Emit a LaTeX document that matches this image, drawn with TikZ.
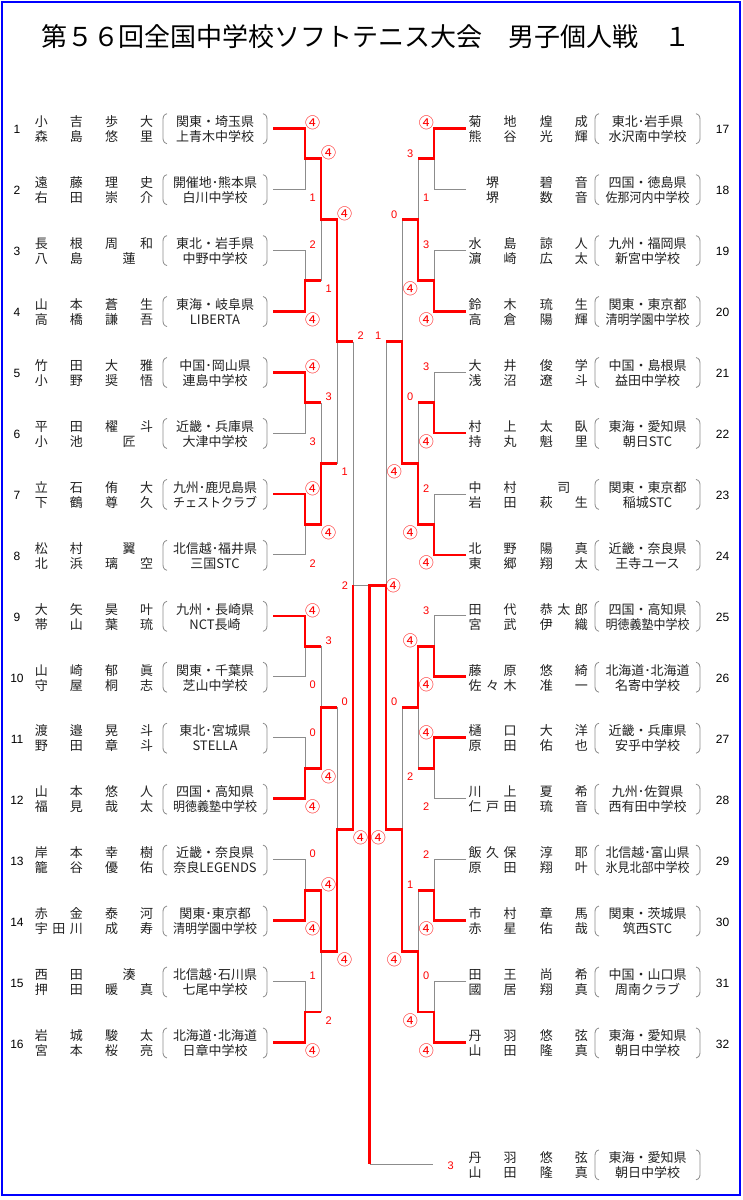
\documentclass[tikz,border=0pt]{standalone}
\usepackage{fontspec}
\usepackage{graphicx}
\newfontfamily\jp{Noto Sans CJK JP}
\newfontfamily\lat{Liberation Sans}
\usetikzlibrary{calc}
\definecolor{lg}{HTML}{8C8C8C}
\definecolor{rd}{HTML}{FF0000}
\definecolor{bl}{HTML}{0000FF}
\definecolor{tx}{HTML}{222222}
\newsavebox\tbx
\newcommand\fitw[1]{\sbox\tbx{#1}\ifdim\wd\tbx>84pt\resizebox{84pt}{\height}{\usebox\tbx}\else\usebox\tbx\fi}
\def\sprEnd{}
\def\spr#1{\sprA#1\sprEnd}
\def\sprA#1#2{#1\ifx#2\sprEnd\else\hfill\expandafter\sprA\expandafter#2\fi}
\newcommand\four{{\jp\fontsize{15}{15}\selectfont ④}}
\tikzset{
 win/.style={draw=rd, line width=2.8pt},
 lose/.style={draw=lg, line width=1pt},
 brk/.style={draw=lg, line width=0.8pt},
 nm/.style={inner sep=0pt, text=tx, font=\jp\fontsize{13}{13}\selectfont, text height=11pt, text depth=2.5pt},
 num/.style={inner sep=0pt, font=\lat\fontsize{12}{12}\selectfont},
 scr/.style={inner sep=0pt, text=rd, font=\lat\fontsize{11}{11}\selectfont},
}
\newcommand\entLx[8]{%
 \pgfmathsetmacro\cy{129.7+60.95*(#2)}%
 \node[nm] (s#1a) at (58.9,\cy-7.5) {\makebox[48pt]{\spr{#3}}};%
 \node[nm] (g#1a) at (129.2,\cy-7.5) {\makebox[48pt]{\spr{#4}}};%
 \node[nm] (s#1b) at (58.9,\cy+7.5) {\makebox[48pt]{\spr{#5}}};%
 \node[nm] (g#1b) at (129.2,\cy+7.5) {\makebox[48pt]{\spr{#6}}};%
 \node[nm] (r#1) at (215,\cy-7.5) {\fitw{#7}};%
 \node[nm] (k#1) at (215,\cy+7.5) {\fitw{#8}};%
 \draw[brk] (167,\cy-16) .. controls (163.6,\cy-15) and (163,\cy-13) .. (163,\cy-9.5) -- (163,\cy+7.5) .. controls (163,\cy+11) and (163.6,\cy+13) .. (167,\cy+14);%
 \draw[brk] (263,\cy-16) .. controls (266.4,\cy-15) and (267,\cy-13) .. (267,\cy-9.5) -- (267,\cy+7.5) .. controls (267,\cy+11) and (266.4,\cy+13) .. (263,\cy+14);%
}
\newcommand\entRx[8]{%
 \pgfmathsetmacro\cy{129.7+60.95*(#2)}%
 \node[nm] (s#1a) at (492.5,\cy-7.5) {\makebox[48pt]{\spr{#3}}};%
 \node[nm] (g#1a) at (563.9,\cy-7.5) {\makebox[48pt]{\spr{#4}}};%
 \node[nm] (s#1b) at (492.5,\cy+7.5) {\makebox[48pt]{\spr{#5}}};%
 \node[nm] (g#1b) at (563.9,\cy+7.5) {\makebox[48pt]{\spr{#6}}};%
 \node[nm] (r#1) at (647.5,\cy-7.5) {\fitw{#7}};%
 \node[nm] (k#1) at (647.5,\cy+7.5) {\fitw{#8}};%
 \draw[brk] (599,\cy-16) .. controls (595.6,\cy-15) and (595,\cy-13) .. (595,\cy-9.5) -- (595,\cy+7.5) .. controls (595,\cy+11) and (595.6,\cy+13) .. (599,\cy+14);%
 \draw[brk] (696,\cy-16) .. controls (699.4,\cy-15) and (700,\cy-13) .. (700,\cy-9.5) -- (700,\cy+7.5) .. controls (700,\cy+11) and (699.4,\cy+13) .. (696,\cy+14);%
}
\newcommand\ms[6]{%
 \node[scr] (#1u) at (#2,{128.3+60.95*(#3)-5.5}) {#5};%
 \node[scr] (#1d) at (#2,{128.3+60.95*(#4)+8.3}) {#6};%
}
\begin{document}
\begin{tikzpicture}[x=1pt,y=-1pt]
\useasboundingbox (0,0) rectangle (743,1200);
\fill[white] (0,0) rectangle (743,1200);
\draw[bl, line width=2pt] (1.5,2) rectangle (740,1194.5);
\node[font=\jp\fontsize{26}{26}\selectfont, inner sep=0pt] (title) at (366,37) {第５６回全国中学校ソフトテニス大会　男子個人戦　１};

% coordinates
\foreach \i in {1,...,16}{\pgfmathsetmacro\yy{128.3+60.95*(\i-1)}\coordinate (eL\i) at (273,\yy); \coordinate (eR\i) at (466,\yy);}
\foreach \k in {1,...,8}{\pgfmathsetmacro\yy{128.3+60.95*(2*\k-1.5)}\coordinate (aL\k) at (305,\yy); \coordinate (aR\k) at (434,\yy);}
\foreach \k in {1,...,4}{\pgfmathsetmacro\yy{128.3+60.95*(4*\k-2.5)}\coordinate (bL\k) at (321,\yy); \coordinate (bR\k) at (418,\yy);}
\foreach \k in {1,2}{\pgfmathsetmacro\yy{128.3+60.95*(8*\k-4.5)}\coordinate (cL\k) at (337,\yy); \coordinate (cR\k) at (402,\yy);}
\pgfmathsetmacro\yy{128.3+60.95*7.5}
\coordinate (dL) at (353,\yy); \coordinate (dR) at (386,\yy); \coordinate (f) at (369.5,\yy);
\pgfmathsetmacro\yy{128.3+60.95*17}
\coordinate (w) at (369.5,\yy); \coordinate (wE) at (433,\yy);

% losers (gray)
\draw[lose] (eL2) -| (aL1);
\draw[lose] (eL3) -| (aL2);
\draw[lose] (eL6) -| (aL3);
\draw[lose] (eL8) -| (aL4);
\draw[lose] (eL10) -| (aL5);
\draw[lose] (eL11) -| (aL6);
\draw[lose] (eL13) -| (aL7);
\draw[lose] (eL15) -| (aL8);
\draw[lose] (aL2 -| bL1) -- (bL1);
\draw[lose] (aL3 -| bL2) -- (bL2);
\draw[lose] (aL5 -| bL3) -- (bL3);
\draw[lose] (aL8 -| bL4) -- (bL4);
\draw[lose] (bL2 -| cL1) -- (cL1);
\draw[lose] (bL3 -| cL2) -- (cL2);
\draw[lose] (cL1 -| dL) -- (dL);
\draw[lose] (dL) -- (f);
\draw[lose] (eR2) -| (aR1);
\draw[lose] (eR3) -| (aR2);
\draw[lose] (eR5) -| (aR3);
\draw[lose] (eR7) -| (aR4);
\draw[lose] (eR9) -| (aR5);
\draw[lose] (eR12) -| (aR6);
\draw[lose] (eR13) -| (aR7);
\draw[lose] (eR15) -| (aR8);
\draw[lose] (aR1 -| bR1) -- (bR1);
\draw[lose] (aR3 -| bR2) -- (bR2);
\draw[lose] (aR6 -| bR3) -- (bR3);
\draw[lose] (aR7 -| bR4) -- (bR4);
\draw[lose] (bR1 -| cR1) -- (cR1);
\draw[lose] (bR3 -| cR2) -- (cR2);
\draw[lose] (cR1 -| dR) -- (dR);
\draw[lose] (w) -- (wE);

% winners (red)
\draw[win] (eL1) -| (aL1) -| (bL1) -| (cL1) -- (cL1 -| dL);
\draw[win] (eL4) -| (aL2) -- (aL2 -| bL1);
\draw[win] (eL5) -| (aL3) -- (aL3 -| bL2);
\draw[win] (eL7) -| (aL4) -| (bL2) -- (bL2 -| cL1);
\draw[win] (eL9) -| (aL5) -- (aL5 -| bL3);
\draw[win] (eL12) -| (aL6) -| (bL3) -- (bL3 -| cL2);
\draw[win] (eL14) -| (aL7) -| (bL4) -| (cL2) -| (dL);
\draw[win] (eL16) -| (aL8) -- (aL8 -| bL4);
\draw[win] (eR1) -| (aR1) -- (aR1 -| bR1);
\draw[win] (eR4) -| (aR2) -| (bR1) -- (bR1 -| cR1);
\draw[win] (eR6) -| (aR3) -- (aR3 -| bR2);
\draw[win] (eR8) -| (aR4) -| (bR2) -| (cR1) -- (cR1 -| dR);
\draw[win] (eR10) -| (aR5) -| (bR3) -- (bR3 -| cR2);
\draw[win] (eR11) -| (aR6) -- (aR6 -| bR3);
\draw[win] (eR14) -| (aR7) -- (aR7 -| bR4);
\draw[win] (eR16) -| (aR8) -| (bR4) -| (cR2) -| (dR) -- (f) -- (w);

% scores left
\ms{sa1}{312.7}{0}{1}{\four}{1}
\ms{sa2}{312.7}{2}{3}{2}{\four}
\ms{sa3}{312.7}{4}{5}{\four}{3}
\ms{sa4}{312.7}{6}{7}{\four}{2}
\ms{sa5}{312.7}{8}{9}{\four}{0}
\ms{sa6}{312.7}{10}{11}{0}{\four}
\ms{sa7}{312.7}{12}{13}{0}{\four}
\ms{sa8}{312.7}{14}{15}{1}{\four}
\ms{sb1}{328.7}{0.5}{2.5}{\four}{1}
\ms{sb2}{328.7}{4.5}{6.5}{3}{\four}
\ms{sb3}{328.7}{8.5}{10.5}{3}{\four}
\ms{sb4}{328.7}{12.5}{14.5}{\four}{2}
\ms{sc1}{344.7}{1.5}{5.5}{\four}{1}
\ms{sc2}{344.7}{9.5}{13.5}{0}{\four}
\ms{sd}{360.7}{3.5}{11.5}{2}{\four}
% scores right
\ms{ta1}{426.3}{0}{1}{\four}{1}
\ms{ta2}{426.3}{2}{3}{3}{\four}
\ms{ta3}{426.3}{4}{5}{3}{\four}
\ms{ta4}{426.3}{6}{7}{2}{\four}
\ms{ta5}{426.3}{8}{9}{3}{\four}
\ms{ta6}{426.3}{10}{11}{\four}{2}
\ms{ta7}{426.3}{12}{13}{2}{\four}
\ms{ta8}{426.3}{14}{15}{0}{\four}
\ms{tb1}{410.3}{0.5}{2.5}{3}{\four}
\ms{tb2}{410.3}{4.5}{6.5}{0}{\four}
\ms{tb3}{410.3}{8.5}{10.5}{\four}{2}
\ms{tb4}{410.3}{12.5}{14.5}{1}{\four}
\ms{tc1}{394.3}{1.5}{5.5}{0}{\four}
\ms{tc2}{394.3}{9.5}{13.5}{0}{\four}
\ms{td}{378.3}{3.5}{11.5}{1}{\four}
\node[scr] (fl) at (345,586) {2};
\node[scr] (fr) at (393.3,586) {\four};
\node[scr] (ws) at (450.7,1166) {3};

% numbers
\foreach \i in {1,...,16}{\node[num] (nL\i) at (17,{129.7+60.95*(\i-1)}) {\i};}
\foreach \i in {17,...,32}{\node[num] (nR\i) at (722.5,{129.7+60.95*(\i-17)}) {\i};}

% entries left
\entLx{L1}{0}{小吉}{歩大}{森島}{悠里}{関東・埼玉県}{上青木中学校}
\entLx{L2}{1}{遠藤}{理史}{右田}{崇介}{開催地･熊本県}{白川中学校}
\entLx{L3}{2}{長根}{周和}{八島}{蓮}{東北・岩手県}{中野中学校}
\entLx{L4}{3}{山本}{蒼生}{高橋}{謙吾}{東海・岐阜県}{LIBERTA}
\entLx{L5}{4}{竹田}{大雅}{小野}{奨悟}{中国･岡山県}{連島中学校}
\entLx{L6}{5}{平田}{櫂斗}{小池}{匠}{近畿・兵庫県}{大津中学校}
\entLx{L7}{6}{立石}{侑大}{下鶴}{尊久}{九州･鹿児島県}{チェストクラブ}
\entLx{L8}{7}{松村}{翼}{北浜}{璃空}{北信越･福井県}{三国STC}
\entLx{L9}{8}{大矢}{昊叶}{帯山}{葉琉}{九州・長崎県}{NCT長崎}
\entLx{L10}{9}{山崎}{郁眞}{守屋}{桐志}{関東・千葉県}{芝山中学校}
\entLx{L11}{10}{渡邉}{晃斗}{野田}{章斗}{東北･宮城県}{STELLA}
\entLx{L12}{11}{山本}{悠人}{福見}{哉太}{四国・高知県}{明徳義塾中学校}
\entLx{L13}{12}{岸本}{幸樹}{籠谷}{優佑}{近畿・奈良県}{奈良LEGENDS}
\entLx{L14}{13}{赤金}{泰河}{宇田川}{成寿}{関東･東京都}{清明学園中学校}
\entLx{L15}{14}{西田}{湊}{押田}{暖真}{北信越･石川県}{七尾中学校}
\entLx{L16}{15}{岩城}{駿太}{宮本}{桜亮}{北海道･北海道}{日章中学校}
% entries right
\entRx{R17}{0}{菊地}{煌成}{熊谷}{光輝}{東北･岩手県}{水沢南中学校}
\entRx{R18}{1}{堺}{碧音}{堺}{数音}{四国・徳島県}{佐那河内中学校}
\entRx{R19}{2}{水島}{諒人}{濵崎}{広太}{九州・福岡県}{新宮中学校}
\entRx{R20}{3}{鈴木}{琉生}{高倉}{陽輝}{関東・東京都}{清明学園中学校}
\entRx{R21}{4}{大井}{俊学}{浅沼}{遼斗}{中国・島根県}{益田中学校}
\entRx{R22}{5}{村上}{太臥}{持丸}{魁里}{東海・愛知県}{朝日STC}
\entRx{R23}{6}{中村}{司}{岩田}{萩生}{関東・東京都}{稲城STC}
\entRx{R24}{7}{北野}{陽真}{東郷}{翔太}{近畿・奈良県}{王寺ユース}
\entRx{R25}{8}{田代}{恭太郎}{宮武}{伊織}{四国・高知県}{明徳義塾中学校}
\entRx{R26}{9}{藤原}{悠綺}{佐々木}{准一}{北海道･北海道}{名寄中学校}
\entRx{R27}{10}{樋口}{大洋}{原田}{佑也}{近畿・兵庫県}{安乎中学校}
\entRx{R28}{11}{川上}{夏希}{仁戸田}{琉音}{九州･佐賀県}{西有田中学校}
\entRx{R29}{12}{飯久保}{淳耶}{原田}{翔叶}{北信越･富山県}{氷見北部中学校}
\entRx{R30}{13}{市村}{章馬}{赤星}{佑哉}{関東・茨城県}{筑西STC}
\entRx{R31}{14}{田王}{尚希}{國居}{翔真}{中国・山口県}{周南クラブ}
\entRx{R32}{15}{丹羽}{悠弦}{山田}{隆真}{東海・愛知県}{朝日中学校}
\entRx{W}{17}{丹羽}{悠弦}{山田}{隆真}{東海・愛知県}{朝日中学校}
\end{tikzpicture}
\end{document}
